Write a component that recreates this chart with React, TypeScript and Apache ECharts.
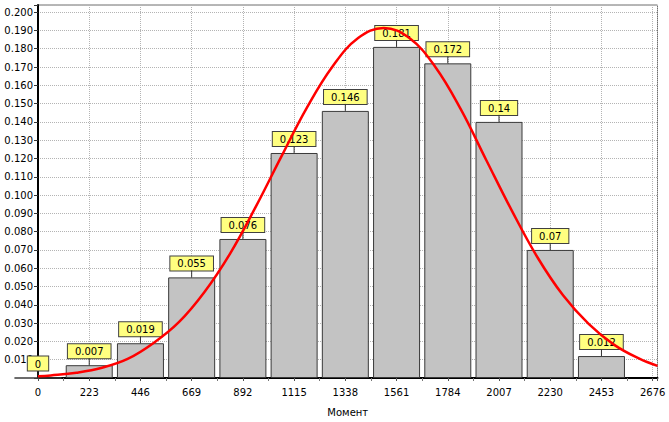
import React, { useEffect, useRef } from "react";
import * as echarts from "echarts";

// Histogram classes (bar centres) and relative frequencies
const binCenters = [0, 223, 446, 669, 892, 1115, 1338, 1561, 1784, 2007, 2230, 2453];
const frequencies = [0, 0.007, 0.019, 0.055, 0.076, 0.123, 0.146, 0.181, 0.172, 0.14, 0.07, 0.012];

// Fitted curve
const curveX = [0, 55.75, 167.25, 278.75, 390.25, 501.75, 613.25, 724.75, 836.25, 947.75, 1059.25, 1170.75, 1282.25, 1393.75, 1505.25, 1616.75, 1728.25, 1839.75, 1951.25, 2062.75, 2174.25, 2285.75, 2397.25, 2508.75, 2620.25, 2697];
const curveY = [0.0009, 0.0014, 0.0029, 0.0056, 0.0104, 0.019, 0.0305, 0.047, 0.068, 0.0935, 0.121, 0.1478, 0.1703, 0.1858, 0.1913, 0.1858, 0.1703, 0.1471, 0.1192, 0.0915, 0.066, 0.0452, 0.0296, 0.0181, 0.0104, 0.0066];

const X_INTERVAL = 223;
const X_MAX = 2697;
const Y_INTERVAL = 0.01;
const Y_MAX = 0.2039;
const AXIS_NAME = "Момент";

const FONT = "DejaVu Sans";

export default function App() {
  const ref = useRef<HTMLDivElement>(null);

  useEffect(() => {
    if (!ref.current) return;
    const chart = echarts.init(ref.current, undefined, { renderer: "svg" });

    const barData = binCenters.map((x, i) => [x, frequencies[i]]);
    const curveData = curveX.map((x, i) => [x, curveY[i]]);

    chart.setOption({
      animation: false,
      backgroundColor: "#ffffff",
      grid: {
        left: 38,
        top: 5,
        width: 619.5,
        height: 378,
        show: true,
        borderColor: "#6e6e6e",
        borderWidth: 1,
        backgroundColor: "transparent",
      },
      xAxis: {
        type: "value",
        min: 0,
        max: X_MAX,
        interval: X_INTERVAL,
        name: AXIS_NAME,
        nameLocation: "middle",
        nameGap: 29,
        nameTextStyle: { color: "#000", fontFamily: FONT, fontSize: 10 },
        axisLine: { show: true, onZero: false, lineStyle: { color: "#000", width: 2 } },
        axisTick: { show: true, length: 3, lineStyle: { color: "#555" } },
        minorTick: { show: true, splitNumber: 2, length: 3, lineStyle: { color: "#777" } },
        axisLabel: {
          color: "#000",
          fontFamily: FONT,
          fontSize: 10,
          margin: 9,
          showMaxLabel: true,
          formatter: (v: number) => {
            const k = v / X_INTERVAL;
            return Math.abs(k - Math.round(k)) < 1e-6 ? String(Math.round(v)) : "";
          },
        },
        splitLine: { show: true, lineStyle: { color: "#b4b4b4", type: [1, 1], width: 1 } },
      },
      yAxis: {
        type: "value",
        min: 0,
        max: Y_MAX,
        interval: Y_INTERVAL,
        axisLine: { show: true, lineStyle: { color: "#000", width: 2 } },
        axisTick: { show: true, length: 4, lineStyle: { color: "#333" } },
        axisLabel: {
          color: "#000",
          fontFamily: FONT,
          fontSize: 10,
          margin: 5,
          formatter: (v: number) => {
            const k = v / Y_INTERVAL;
            if (v <= 0 || Math.abs(k - Math.round(k)) > 1e-6) return "";
            return v.toFixed(3);
          },
        },
        splitLine: { show: true, lineStyle: { color: "#b4b4b4", type: [1, 1], width: 1 } },
      },
      series: [
        {
          type: "bar",
          data: barData,
          barWidth: 47,
          clip: false,
          itemStyle: { color: "#c3c3c3", borderColor: "#3a3a3a", borderWidth: 1 },
          label: {
            show: true,
            position: "top",
            distance: 7,
            formatter: (p: any) => String(p.data[1]),
            color: "#000",
            fontFamily: FONT,
            fontSize: 10,
            lineHeight: 11,
            backgroundColor: "#ffff80",
            borderColor: "#404040",
            borderWidth: 1,
            padding: [2, 7, 1, 7],
          },
          z: 2,
        },
        {
          type: "custom",
          data: barData,
          clip: false,
          renderItem: (params: any, api: any) => {
            const p = api.coord([api.value(0), api.value(1)]);
            return {
              type: "line",
              shape: { x1: p[0], y1: p[1], x2: p[0], y2: p[1] - 7 },
              style: { stroke: "#333", lineWidth: 1 },
            };
          },
          z: 3,
        },
        {
          type: "line",
          data: curveData,
          smooth: 0.4,
          showSymbol: false,
          symbol: "none",
          lineStyle: { color: "#ff0000", width: 2.5 },
          z: 10,
        },
      ],
    });

    return () => chart.dispose();
  }, []);

  return (
    <div
      ref={ref}
      style={{ position: "fixed", left: 0, top: 0, width: 669, height: 422, background: "#fff" }}
    />
  );
}
